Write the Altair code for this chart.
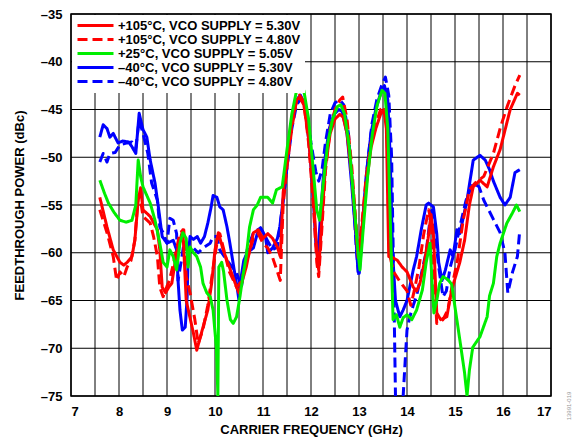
import altair as alt
import pandas as pd

SERIES = [
    "+105°C, VCO SUPPLY = 5.30V",
    "+105°C, VCO SUPPLY = 4.80V",
    "+25°C, VCO SUPPLY = 5.05V",
    "–40°C, VCO SUPPLY = 5.30V",
    "–40°C, VCO SUPPLY = 4.80V",
]
COLORS = ["#ff0000", "#ff0000", "#00ee00", "#0000ff", "#0000ff"]
DASHES = [[1, 0], [10, 5], [1, 0], [1, 0], [10, 5]]

# +105°C, 5.30 V (red solid)
RS_F = [7.60, 7.75, 7.88, 8.02, 8.10, 8.17, 8.27, 8.33, 8.40, 8.45, 8.50, 8.65, 8.80, 8.85, 8.90, 8.97,
        9.05, 9.10, 9.20, 9.33, 9.40, 9.55, 9.62, 9.75, 9.85, 9.93, 10.00, 10.07, 10.17, 10.30, 10.45,
        10.50, 10.65, 10.80, 10.90, 11.00, 11.10, 11.20, 11.30, 11.36, 11.42, 11.50, 11.60, 11.70,
        11.76, 11.85, 11.95, 12.05, 12.12, 12.16, 12.22, 12.30, 12.40, 12.50, 12.60, 12.67, 12.75,
        12.85, 12.93, 12.98, 13.05, 13.15, 13.25, 13.35, 13.45, 13.52, 13.57, 13.62, 13.70, 13.80,
        13.90, 14.00, 14.13, 14.20, 14.27, 14.37, 14.44, 14.50, 14.55, 14.62, 14.70, 14.83, 14.93,
        15.10, 15.20, 15.30, 15.38, 15.52, 15.67, 15.80, 15.94, 16.15, 16.30, 16.35]
RS_DB = [-54.2, -57.3, -59.7, -61.0, -61.3, -61.0, -60.4, -58.7, -54.5, -53.2, -55.5, -56.2, -57.6, -59.7,
         -63.6, -64.2, -63.5, -63.2, -60.0, -57.6, -65.0, -68.4, -70.2, -67.8, -66.0, -63.2, -59.7,
         -57.9, -59.7, -61.5, -63.6, -64.2, -61.5, -57.9, -57.6, -58.5, -58.0, -58.5, -59.4, -60.4,
         -53.7, -50.3, -46.5, -44.0, -43.7, -44.5, -48.0, -54.0, -60.0, -61.8, -57.0, -51.0, -47.5,
         -46.0, -45.5, -45.8, -47.5, -52.0, -57.0, -60.5, -58.0, -53.0, -49.0, -47.0, -45.5, -45.0,
         -47.0, -60.4, -60.5, -60.8, -61.5, -62.0, -63.6, -64.0, -63.2, -60.8, -58.5, -56.0, -58.0,
         -66.3, -67.0, -66.7, -63.9, -61.0, -58.7, -55.0, -53.1, -52.4, -53.1, -51.0, -49.2, -45.0,
         -43.3, -43.5]

# +105°C, 4.80 V (red dashed)
RD_F = [7.60, 7.75, 7.88, 7.95, 8.02, 8.10, 8.17, 8.25, 8.33, 8.40, 8.45, 8.50, 8.65, 8.72, 8.80, 8.85,
        8.92, 9.00, 9.05, 9.15, 9.27, 9.35, 9.40, 9.48, 9.58, 9.65, 9.75, 9.85, 9.95, 10.04, 10.10,
        10.20, 10.30, 10.45, 10.55, 10.65, 10.80, 10.90, 11.00, 11.10, 11.20, 11.30, 11.36, 11.42,
        11.50, 11.60, 11.70, 11.76, 11.85, 11.95, 12.05, 12.12, 12.16, 12.22, 12.30, 12.40, 12.50,
        12.60, 12.66, 12.75, 12.85, 12.93, 12.98, 13.05, 13.15, 13.25, 13.35, 13.45, 13.53, 13.58,
        13.63, 13.72, 13.85, 14.00, 14.08, 14.15, 14.25, 14.35, 14.45, 14.50, 14.55, 14.62, 14.75,
        14.85, 14.95, 15.05, 15.17, 15.30, 15.42, 15.60, 15.80, 15.95, 16.10, 16.25, 16.35]
RD_DB = [-55.5, -57.9, -60.4, -62.9, -62.0, -62.5, -61.5, -60.8, -58.7, -54.0, -54.5, -56.2, -56.9,
         -58.3, -60.4, -63.6, -64.6, -63.5, -62.9, -60.8, -57.9, -57.6, -62.5, -64.2, -67.0, -69.5,
         -68.0, -65.5, -62.0, -59.0, -58.0, -60.0, -62.0, -63.6, -63.0, -61.0, -58.5, -58.0, -59.0,
         -59.5, -60.5, -62.0, -62.9, -55.0, -51.0, -47.0, -44.0, -43.5, -44.2, -48.5, -55.0, -61.0,
         -62.5, -58.0, -51.5, -47.0, -45.0, -44.0, -43.7, -46.0, -51.0, -56.5, -60.0, -57.5, -52.0,
         -48.5, -46.5, -45.0, -44.7, -46.0, -60.0, -62.0, -63.0, -64.0, -65.5, -64.0, -61.5, -58.0,
         -55.5, -56.5, -61.0, -67.4, -67.0, -66.0, -63.2, -60.8, -56.6, -53.4, -52.7, -52.0, -49.6,
         -46.8, -44.5, -42.5, -41.4]

# +25°C, 5.05 V (green)
G_F = [7.60, 7.70, 7.78, 7.90, 8.02, 8.15, 8.27, 8.35, 8.40, 8.45, 8.50, 8.65, 8.75, 8.85, 8.92, 9.00,
       9.06, 9.13, 9.20, 9.27, 9.33, 9.40, 9.44, 9.48, 9.55, 9.62, 9.70, 9.75, 9.83, 9.90, 9.96, 10.03,
       10.06, 10.08, 10.14, 10.18, 10.25, 10.32, 10.38, 10.45, 10.52, 10.58, 10.65, 10.72, 10.80,
       10.88, 10.95, 11.10, 11.20, 11.28, 11.40, 11.50, 11.60, 11.70, 11.76, 11.85, 11.95, 12.05,
       12.12, 12.18, 12.25, 12.35, 12.45, 12.55, 12.62, 12.70, 12.80, 12.90, 12.98, 13.02, 13.08,
       13.18, 13.28, 13.38, 13.48, 13.54, 13.60, 13.66, 13.71, 13.78, 13.85, 13.92, 14.00, 14.10,
       14.20, 14.32, 14.40, 14.48, 14.52, 14.56, 14.62, 14.68, 14.75, 14.85, 14.93, 15.00, 15.10,
       15.20, 15.25, 15.30, 15.37, 15.52, 15.67, 15.72, 15.80, 15.87, 15.94, 16.08, 16.20, 16.28, 16.35]
G_DB = [-52.4, -53.8, -54.8, -55.8, -56.6, -56.8, -56.6, -55.0, -50.3, -52.0, -53.1, -54.8, -56.6,
        -59.0, -61.0, -61.5, -59.7, -60.4, -61.8, -59.0, -57.9, -58.5, -61.5, -59.4, -60.0, -60.4,
        -61.5, -63.2, -64.2, -64.6, -66.0, -70.0, -75.0, -61.5, -61.0, -62.0, -65.0, -67.0, -67.4,
        -66.7, -64.6, -62.5, -60.4, -57.3, -55.5, -55.0, -54.2, -54.2, -54.8, -53.4, -53.1, -49.2,
        -45.5, -43.0, -42.5, -43.0, -46.0, -51.5, -55.5, -56.6, -53.0, -48.5, -46.0, -44.7, -44.5,
        -45.5, -49.0, -55.0, -60.0, -61.8, -58.0, -52.0, -47.5, -44.5, -43.0, -43.3, -47.0, -58.0,
        -67.0, -66.5, -67.8, -66.8, -66.5, -67.0, -66.0, -63.9, -61.0, -59.0, -62.9, -66.3, -65.0,
        -63.2, -62.5, -62.8, -63.3, -65.7, -69.1, -72.6, -75.0, -72.3, -69.9, -68.8, -66.7, -64.5,
        -63.2, -60.4, -59.0, -56.9, -55.8, -55.0, -55.7]

# –40°C, 5.30 V (blue solid)
BS_F = [7.60, 7.67, 7.75, 7.81, 7.88, 7.98, 8.08, 8.20, 8.27, 8.35, 8.42, 8.50, 8.58, 8.65, 8.75, 8.82,
        8.90, 9.00, 9.13, 9.20, 9.23, 9.27, 9.32, 9.38, 9.42, 9.44, 9.48, 9.55, 9.63, 9.70, 9.78, 9.85,
        9.92, 9.96, 10.04, 10.10, 10.17, 10.25, 10.31, 10.40, 10.46, 10.50, 10.53, 10.60, 10.67, 10.80,
        10.88, 10.95, 11.05, 11.10, 11.20, 11.30, 11.35, 11.42, 11.50, 11.60, 11.70, 11.78, 11.87,
        11.97, 12.05, 12.10, 12.14, 12.20, 12.28, 12.38, 12.48, 12.58, 12.65, 12.75, 12.85, 12.93,
        12.98, 13.05, 13.15, 13.25, 13.35, 13.45, 13.53, 13.60, 13.65, 13.70, 13.76, 13.85, 13.92,
        14.00, 14.13, 14.20, 14.30, 14.40, 14.45, 14.55, 14.62, 14.66, 14.73, 14.80, 14.90, 14.96,
        15.04, 15.10, 15.25, 15.38, 15.52, 15.63, 15.72, 15.80, 15.94, 16.04, 16.15, 16.25, 16.35]
BS_DB = [-47.9, -46.6, -47.0, -47.9, -47.5, -48.5, -48.3, -48.4, -48.9, -49.6, -45.4, -47.1, -47.9,
         -50.3, -52.7, -55.2, -58.3, -59.0, -58.7, -59.7, -62.9, -66.0, -68.1, -67.8, -64.6, -60.4,
         -58.3, -58.6, -58.3, -59.0, -58.3, -56.9, -55.2, -54.0, -54.2, -55.2, -55.5, -57.3, -59.0,
         -61.8, -63.6, -65.0, -63.0, -60.8, -60.0, -59.5, -58.0, -57.4, -58.3, -60.0, -59.5, -58.5,
         -57.3, -54.5, -51.0, -46.5, -44.0, -43.5, -44.5, -49.0, -54.5, -59.0, -60.4, -56.0, -50.5,
         -47.0, -45.5, -45.0, -45.2, -47.5, -53.0, -58.0, -62.0, -58.5, -52.0, -47.5, -45.0, -43.3,
         -42.5, -44.0, -50.0, -60.0, -65.0, -66.7, -66.0, -65.0, -61.8, -60.4, -57.5, -55.0, -54.8,
         -55.2, -58.0, -61.0, -62.9, -61.8, -59.7, -60.4, -57.6, -58.0, -54.5, -50.3, -49.8, -50.3,
         -51.3, -52.5, -54.2, -55.0, -54.2, -51.6, -51.3]

# –40°C, 4.80 V (blue dashed)
BD_F = [7.60, 7.67, 7.75, 7.81, 7.92, 8.02, 8.17, 8.27, 8.35, 8.42, 8.50, 8.60, 8.68, 8.80, 8.85, 8.92,
        9.00, 9.06, 9.13, 9.20, 9.23, 9.30, 9.35, 9.45, 9.55, 9.65, 9.75, 9.90, 9.96, 10.04, 10.10,
        10.25, 10.45, 10.55, 10.67, 10.80, 10.95, 11.08, 11.20, 11.30, 11.42, 11.50, 11.60, 11.70,
        11.80, 11.90, 12.00, 12.10, 12.16, 12.23, 12.30, 12.40, 12.50, 12.60, 12.68, 12.78, 12.88,
        12.95, 13.00, 13.07, 13.17, 13.27, 13.37, 13.47, 13.55, 13.62, 13.68, 13.72, 13.76, 13.92,
        13.96, 14.00, 14.06, 14.13, 14.20, 14.27, 14.33, 14.40, 14.48, 14.52, 14.58, 14.66, 14.75,
        14.82, 14.90, 15.00, 15.10, 15.23, 15.38, 15.50, 15.60, 15.70, 15.80, 15.94, 16.04, 16.10,
        16.20, 16.30, 16.35]
BD_DB = [-50.5, -49.6, -50.5, -49.6, -49.5, -48.7, -48.5, -48.4, -49.0, -46.1, -47.5, -49.6, -52.7,
         -54.5, -57.3, -57.9, -59.0, -56.4, -56.6, -58.0, -62.9, -60.8, -59.1, -60.0, -59.5, -60.0,
         -59.5, -59.0, -58.3, -58.3, -59.7, -60.8, -62.1, -63.6, -59.7, -57.9, -57.4, -58.6, -59.7,
         -59.4, -54.5, -51.0, -47.0, -44.5, -43.8, -45.0, -48.5, -51.5, -52.5, -51.3, -48.5, -45.5,
         -44.3, -44.0, -44.5, -47.5, -54.0, -60.0, -62.5, -58.0, -51.0, -46.5, -44.0, -42.5, -41.6,
         -43.5, -50.0, -62.0, -75.0, -75.0, -71.5, -68.1, -66.7, -65.5, -64.5, -62.9, -61.5, -59.9,
         -56.5, -55.2, -57.5, -61.5, -64.6, -64.0, -61.5, -59.7, -57.3, -54.5, -52.7, -53.1, -54.5,
         -55.5, -56.5, -57.9, -60.0, -64.2, -62.0, -60.4, -57.6]

X_TICKS = [7 + 0.5 * i for i in range(21)]
Y_TICKS = [-75, -70, -65, -60, -55, -50, -45, -40, -35]

frames = []
draw_order = [4, 3, 1, 0, 2]
all_f = [RS_F, RD_F, G_F, BS_F, BD_F]
all_db = [RS_DB, RD_DB, G_DB, BS_DB, BD_DB]
for k, idx in enumerate(draw_order):
    frames.append(pd.DataFrame({"f": all_f[idx], "db": all_db[idx],
                                "series": SERIES[idx], "layer": k}))
df = pd.concat(frames, ignore_index=True)
df["pt"] = range(len(df))

font = "Liberation Sans"
xscale = alt.Scale(domain=[7, 17], nice=False)
yscale = alt.Scale(domain=[-75, -35], nice=False)
xaxis = alt.Axis(values=X_TICKS, title="CARRIER FREQUENCY (GHz)", grid=False,
                 labelExpr="datum.value % 1 === 0 ? format(datum.value, 'd') : ''",
                 labelPadding=9, titlePadding=5)
yaxis = alt.Axis(values=Y_TICKS, title="FEEDTHROUGH POWER (dBc)", grid=False,
                 labelExpr="'–' + abs(datum.value)", labelPadding=9, titlePadding=14)

vgrid = alt.Chart(pd.DataFrame({"v": X_TICKS})).mark_rule(color="black", strokeWidth=1).encode(
    x=alt.X("v:Q", scale=xscale, axis=xaxis))
hgrid = alt.Chart(pd.DataFrame({"v": Y_TICKS})).mark_rule(color="black", strokeWidth=1).encode(
    y=alt.Y("v:Q", scale=yscale, axis=yaxis))

lines = alt.Chart(df).mark_line(strokeWidth=3, strokeJoin="round", clip=True).encode(
    x=alt.X("f:Q", scale=xscale, axis=xaxis),
    y=alt.Y("db:Q", scale=yscale, axis=yaxis),
    color=alt.Color("series:N", scale=alt.Scale(domain=SERIES, range=COLORS),
                    legend=alt.Legend(title=None)),
    strokeDash=alt.StrokeDash("series:N", scale=alt.Scale(domain=SERIES, range=DASHES),
                              legend=alt.Legend(title=None)),
    detail="layer:N",
    order="pt:Q",
)

note = alt.Chart(pd.DataFrame({"t": ["13991-019"]})).mark_text(
    angle=270, fontSize=6, color="#999999", font=font, align="center", baseline="middle"
).encode(x=alt.value(498), y=alt.value(392), text="t:N")

chart = alt.layer(vgrid, hgrid, lines, note).properties(
    width=480, height=382,
    padding={"left": 63, "top": 6, "right": 22, "bottom": 43},
    autosize=alt.AutoSizeParams(type="none"),
).configure_view(stroke="black", strokeWidth=1.5).configure_axis(
    ticks=False, domain=False,
    labelFont=font, labelFontWeight="bold", labelFontSize=13, labelColor="black",
    titleFont=font, titleFontWeight="bold", titleFontSize=13, titleColor="black",
).configure_legend(
    orient="none", legendX=1, legendY=1, fillColor="white", padding=4,
    symbolType="M-6,0H6", symbolSize=36, symbolStrokeWidth=3, symbolOpacity=1,
    symbolOffset=13, symbolFillColor="transparent",
    labelFont=font, labelFontWeight="bold", labelFontSize=13, labelColor="black",
    labelOffset=16, rowPadding=0, labelLimit=400,
)

chart.save("out.html", embed_options={"renderer": "svg", "actions": False})
